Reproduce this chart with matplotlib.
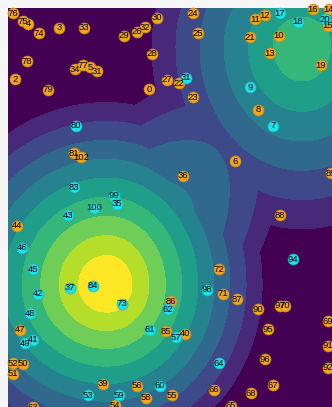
import numpy as np
import matplotlib.pyplot as plt

# point labels and coordinates (x right, y down)
orange_lbl = [76, 75, 4, 74, 3, 33, 78, 2, 79, 34, 77, 5, 31, 29, 26, 32, 30, 28, 0, 27, 22,
              24, 25, 23, 11, 12, 21, 10, 13, 16, 14, 15, 19, 8, 6, 36, 89, 88, 81, 102, 44,
              72, 86, 71, 87, 90, 97, 70, 85, 40, 95, 69, 91, 96, 92, 67, 68, 66, 55, 65,
              47, 52, 50, 51, 39, 56, 58, 54, 63]
orange_x = [5, 15, 20, 31, 51, 76, 19, 7, 40, 67, 75, 82, 89, 116, 129, 137, 149, 144, 141, 159, 171,
            185, 190, 185, 247, 257, 242, 271, 262, 305, 321, 320, 313, 250, 227, 175, 323, 272, 66, 73, 9,
            211, 163, 215, 229, 250, 272, 277, 158, 177, 260, 320, 320, 257, 320, 265, 243, 206, 164, 223,
            12, 5, 15, 5, 95, 129, 138, 107, 25]
orange_y = [5, 13, 16, 25, 20, 20, 53, 71, 82, 61, 57, 59, 63, 28, 24, 19, 10, 46, 81, 72, 75,
            5, 25, 89, 11, 7, 29, 28, 45, 1, 1, 18, 57, 102, 153, 168, 165, 207, 145, 149, 218,
            261, 293, 286, 291, 301, 298, 298, 323, 326, 321, 313, 338, 351, 360, 377, 385, 382, 387, 398,
            322, 355, 356, 366, 376, 378, 390, 397, 399]

cyan_lbl = [31, 17, 18, 20, 9, 7, 80, 83, 99, 35, 100, 43, 46, 45, 42, 37, 84, 73, 48, 41,
            49, 98, 62, 61, 57, 64, 94, 53, 59, 60]
cyan_x = [178, 272, 290, 317, 242, 265, 68, 66, 106, 109, 86, 60, 14, 25, 30, 62, 85, 114, 22, 25,
          17, 199, 160, 142, 168, 211, 285, 80, 111, 152]
cyan_y = [70, 5, 14, 11, 79, 118, 118, 179, 188, 196, 200, 207, 240, 261, 286, 280, 278, 296, 305, 332,
          335, 282, 301, 322, 329, 355, 251, 387, 387, 378]

# surface: two rounded cone-shaped peaks, stretched differently on each side
peak_x = [99, 294]
peak_y = [277, 38]
peak_amp = [1.0, 0.68]
peak_round = [11.5, 8]
# scale factors: left, right, up, down
peak_k = [(0.88, 1.0, 0.85, 0.92), (0.67, 0.67, 0.67, 0.55)]
slope = 1 / 160
levels = [-10, 0.1, 0.2, 0.3, 0.4, 0.5, 0.6, 0.7, 0.8, 0.9, 10]

xs = np.linspace(0, 324, 400)
ys = np.linspace(0, 399, 480)
X, Y = np.meshgrid(xs, ys)
Z = np.zeros_like(X)
for cx, cy, a, rnd, (kl, kr, ku, kd) in zip(peak_x, peak_y, peak_amp, peak_round, peak_k):
    dx = X - cx
    dy = Y - cy
    dx = dx * np.where(dx < 0, kl, kr)
    dy = dy * np.where(dy < 0, ku, kd)
    r = np.sqrt(dx**2 + dy**2 + rnd**2) - rnd
    Z += np.clip(a - slope * r, 0, None)

fig = plt.figure(figsize=(3.32, 4.07), dpi=100, facecolor='#f6f6f6')
ax = fig.add_axes([8/332, 0, 324/332, 399/407])
ax.contourf(X, Y, Z, levels=levels, colors=plt.cm.viridis(np.linspace(0, 1, 10)))
ax.set_xlim(0, 324)
ax.set_ylim(399, 0)
ax.axis('off')

ax.scatter(orange_x, orange_y, s=62, c='#f2a61e', edgecolors='#c98a1a', linewidths=0.5,
           clip_on=False, zorder=3)
ax.scatter(cyan_x, cyan_y, s=62, c='#1fe3ea', edgecolors='#19b8be', linewidths=0.5,
           clip_on=False, zorder=3)
for lbl, x, y in zip(orange_lbl + cyan_lbl, orange_x + cyan_x, orange_y + cyan_y):
    ax.text(x, y, str(lbl), fontsize=6.8, family='Liberation Sans', ha='center', va='center',
            color='black', clip_on=False, zorder=4)

fig.savefig('out.png', dpi=100, facecolor=fig.get_facecolor())
